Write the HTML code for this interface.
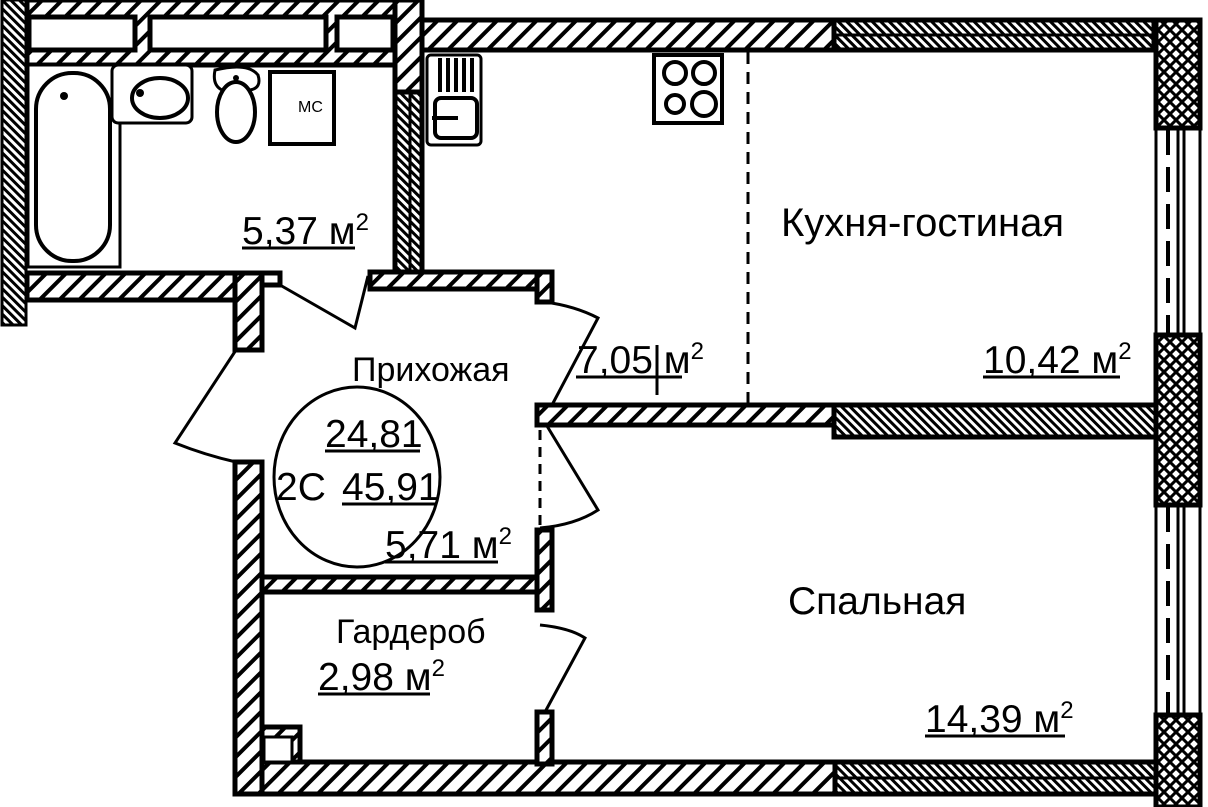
<!DOCTYPE html>
<html><head><meta charset="utf-8"><style>
html,body{margin:0;padding:0;background:#fff;}
svg{display:block}
text{font-family:"Liberation Sans",sans-serif;fill:#000}
</style></head><body>
<svg width="1208" height="807" viewBox="0 0 1208 807" xmlns="http://www.w3.org/2000/svg">
<defs>
<pattern id="c" patternUnits="userSpaceOnUse" width="14" height="14" patternTransform="rotate(45)">
<rect width="14" height="14" fill="#fff"/><rect width="4" height="14" fill="#000"/></pattern>
<pattern id="f" patternUnits="userSpaceOnUse" width="6" height="6" patternTransform="rotate(-45)">
<rect width="6" height="6" fill="#fff"/><rect width="3" height="6" fill="#000"/></pattern>
<pattern id="x" patternUnits="userSpaceOnUse" width="12" height="12">
<rect width="12" height="12" fill="#fff"/><path d="M0 0L12 12M12 0L0 12" stroke="#000" stroke-width="3"/></pattern>
</defs>
<g stroke="#000" stroke-width="5">
<rect x="2" y="0" width="24" height="325" fill="url(#f)" stroke-width="3"/>
<rect x="27" y="0" width="368" height="65" fill="url(#c)"/>
<rect x="29" y="17" width="106" height="33" fill="#fff"/>
<rect x="150" y="17" width="176" height="33" fill="#fff"/>
<rect x="337" y="17" width="56" height="33" fill="#fff"/>
<rect x="395" y="0" width="27" height="92" fill="url(#c)"/>
<rect x="395" y="92" width="27" height="190" fill="url(#f)"/>
<line x1="410" y1="92" x2="410" y2="282" stroke-width="3"/>
<rect x="422" y="20" width="412" height="30" fill="url(#c)"/>
<rect x="834" y="20" width="320" height="30" fill="url(#f)"/>
<line x1="834" y1="35" x2="1154" y2="35" stroke-width="3"/>
<rect x="1156" y="20" width="44" height="108" fill="url(#x)"/>
<rect x="1156" y="335" width="44" height="170" fill="url(#x)"/>
<rect x="1156" y="715" width="44" height="92" fill="url(#x)"/>
<g stroke-width="3" fill="none">
<rect x="1156" y="128" width="44" height="207"/>
<rect x="1156" y="505" width="44" height="210"/>
<line x1="1178" y1="128" x2="1178" y2="335"/><line x1="1184" y1="128" x2="1184" y2="335"/>
<line x1="1178" y1="505" x2="1178" y2="715"/><line x1="1184" y1="505" x2="1184" y2="715"/>
<line x1="1168" y1="130" x2="1168" y2="335" stroke-dasharray="25 12" stroke-width="4"/>
<line x1="1168" y1="507" x2="1168" y2="715" stroke-dasharray="25 12" stroke-width="4"/>
</g>
<rect x="537" y="405" width="297" height="20" fill="url(#c)"/>
<rect x="834" y="405" width="322" height="32" fill="url(#f)"/>
<rect x="235" y="762" width="600" height="32" fill="url(#c)"/>
<rect x="835" y="762" width="321" height="32" fill="url(#f)"/>
<line x1="835" y1="778" x2="1156" y2="778" stroke-width="3"/>
<rect x="27" y="273" width="220" height="27" fill="url(#c)"/>
<rect x="235" y="273" width="27" height="77" fill="url(#c)"/>
<rect x="262" y="273" width="18" height="12" fill="#fff"/>
<rect x="370" y="272" width="182" height="17" fill="url(#c)"/>
<rect x="537" y="272" width="15" height="30" fill="url(#c)"/>
<rect x="235" y="462" width="27" height="332" fill="url(#c)"/>
<rect x="262" y="577" width="290" height="15" fill="url(#c)"/>
<rect x="537" y="530" width="15" height="80" fill="url(#c)"/>
<rect x="537" y="712" width="15" height="52" fill="url(#c)"/>
<rect x="262" y="727" width="38" height="35" fill="url(#c)"/>
<rect x="264" y="737" width="28" height="25" fill="#fff" stroke-width="3"/>
</g>
<g stroke="#000" stroke-width="3" fill="none">
<path d="M280 285 L355 328 Q362 300 368 276"/>
<path d="M236 350 L175 443 Q205 455 236 462"/>
<path d="M545 302 Q575 306 598 318 L552 405"/>
<path d="M547 426 L598 510 Q575 525 540 528"/>
<path d="M540 625 Q570 628 585 638 L545 712"/>
<line x1="540" y1="430" x2="540" y2="528" stroke-dasharray="10 7"/>
<line x1="748" y1="52" x2="748" y2="405" stroke-dasharray="12 8"/>
<line x1="657" y1="345" x2="657" y2="395"/>
</g>
<g stroke="#000" stroke-width="4" fill="#fff">
<rect x="28" y="65" width="92" height="202" stroke-width="3"/>
<rect x="36" y="73" width="74" height="188" rx="36"/>
<rect x="112" y="65" width="80" height="58" rx="6" stroke-width="3"/>
<ellipse cx="160" cy="98" rx="28" ry="20"/>
<path d="M215 70 Q248 62 258 75 Q262 88 250 90 L222 90 Q212 85 215 70Z" stroke-width="3"/>
<ellipse cx="236" cy="112" rx="19" ry="30"/>
<rect x="270" y="72" width="64" height="72"/>
<rect x="427" y="55" width="54" height="90" rx="4" stroke-width="3"/>
<rect x="435" y="98" width="42" height="40" rx="6"/>
<rect x="654" y="55" width="68" height="68"/>
</g>
<g stroke="#000" stroke-width="4" fill="none">
<line x1="440" y1="58" x2="440" y2="92"/><line x1="448" y1="58" x2="448" y2="92"/><line x1="456" y1="58" x2="456" y2="92"/><line x1="464" y1="58" x2="464" y2="92"/><line x1="472" y1="58" x2="472" y2="92"/>
<line x1="432" y1="118" x2="458" y2="118"/>
<circle cx="675" cy="73" r="11"/><circle cx="704" cy="73" r="11"/><circle cx="675" cy="104" r="9"/><circle cx="704" cy="104" r="12"/>
<ellipse cx="357" cy="477" rx="83" ry="90" stroke-width="3"/>
</g>
<circle cx="64" cy="96" r="4"/><circle cx="140" cy="93" r="4"/><circle cx="236" cy="78" r="3"/>
<text x="298" y="112" font-size="16">МС</text>
<g font-size="39">
<text x="242" y="244">5,37 м<tspan font-size="24" dy="-14">2</tspan></text>
<text x="781" y="236" font-size="40">Кухня-гостиная</text>
<text x="577" y="373">7,05 м<tspan font-size="24" dy="-14">2</tspan></text>
<text x="983" y="373">10,42 м<tspan font-size="24" dy="-14">2</tspan></text>
<text x="352" y="381" font-size="34">Прихожая</text>
<text x="325" y="447">24,81</text>
<text x="276" y="500">2С</text>
<text x="342" y="500">45,91</text>
<text x="385" y="558">5,71 м<tspan font-size="24" dy="-14">2</tspan></text>
<text x="788" y="614">Спальная</text>
<text x="336" y="643" font-size="34">Гардероб</text>
<text x="318" y="690">2,98 м<tspan font-size="24" dy="-14">2</tspan></text>
<text x="925" y="732">14,39 м<tspan font-size="24" dy="-14">2</tspan></text>
</g>
<g stroke="#000" stroke-width="3">
<line x1="242" y1="248" x2="355" y2="248"/><line x1="576" y1="377" x2="682" y2="377"/>
<line x1="983" y1="377" x2="1120" y2="377"/><line x1="325" y1="451" x2="420" y2="451"/>
<line x1="342" y1="504" x2="437" y2="504"/><line x1="385" y1="562" x2="498" y2="562"/>
<line x1="318" y1="694" x2="430" y2="694"/><line x1="925" y1="736" x2="1065" y2="736"/>
</g>
</svg>
</body></html>
